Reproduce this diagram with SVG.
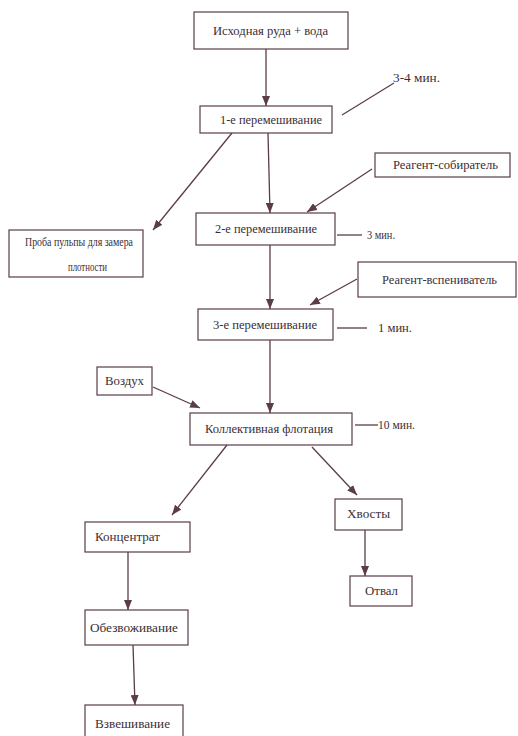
<svg xmlns="http://www.w3.org/2000/svg" width="518" height="736" viewBox="0 0 518 736">
<defs>
<style>
.box{fill:none;stroke:#5a3c4a;stroke-width:1.2}
.ln{fill:none;stroke:#5a3c4a;stroke-width:1.3}
.t{font-family:"Liberation Serif","Times New Roman",serif;font-size:13px;fill:#3a2e36}
</style>
<marker id="ah" markerWidth="10" markerHeight="8" refX="10" refY="4" orient="auto" markerUnits="userSpaceOnUse">
<path d="M0,0 L10,4 L0,8 Z" fill="#5a3c4a"/>
</marker>
</defs>
<rect width="518" height="736" fill="#ffffff"/>
<g id="connectors">
<line class="ln" x1="266" y1="49" x2="266" y2="106" marker-end="url(#ah)"/>
<line class="ln" x1="268" y1="133" x2="270" y2="213" marker-end="url(#ah)"/>
<line class="ln" x1="232" y1="133" x2="153" y2="230" marker-end="url(#ah)"/>
<line class="ln" x1="372" y1="169" x2="307" y2="212" marker-end="url(#ah)"/>
<line class="ln" x1="357" y1="279" x2="310" y2="305" marker-end="url(#ah)"/>
<line class="ln" x1="270" y1="245" x2="270" y2="309" marker-end="url(#ah)"/>
<line class="ln" x1="270" y1="340" x2="270" y2="413" marker-end="url(#ah)"/>
<line class="ln" x1="153" y1="387" x2="200" y2="408" marker-end="url(#ah)"/>
<line class="ln" x1="227" y1="445" x2="172" y2="515" marker-end="url(#ah)"/>
<line class="ln" x1="312" y1="447" x2="357" y2="495" marker-end="url(#ah)"/>
<line class="ln" x1="365" y1="530" x2="365" y2="576" marker-end="url(#ah)"/>
<line class="ln" x1="128" y1="552" x2="128" y2="610" marker-end="url(#ah)"/>
<line class="ln" x1="133" y1="645" x2="135" y2="705" marker-end="url(#ah)"/>
<line class="ln" x1="342" y1="115" x2="394" y2="83"/>
<line class="ln" x1="337" y1="235" x2="362" y2="235"/>
<line class="ln" x1="337" y1="328" x2="367" y2="328"/>
<line class="ln" x1="355" y1="425" x2="378" y2="425"/>
</g>
<g id="n1"><rect class="box" x="194" y="12" width="154" height="37"/><text class="t" x="213" y="35" textLength="115" lengthAdjust="spacingAndGlyphs">Исходная руда + вода</text></g>
<g id="n2"><rect class="box" x="200" y="106" width="132" height="27"/><text class="t" x="220" y="124" textLength="102" lengthAdjust="spacingAndGlyphs">1-е перемешивание</text></g>
<text class="t" x="393" y="82" textLength="47" lengthAdjust="spacingAndGlyphs">3-4 мин.</text>
<g id="n3"><rect class="box" x="9" y="230" width="134" height="47"/><text class="t" x="25" y="246" textLength="108" lengthAdjust="spacingAndGlyphs">Проба пульпы для замера</text><text class="t" x="68" y="271" textLength="39" lengthAdjust="spacingAndGlyphs">плотности</text></g>
<g id="n4"><rect class="box" x="196" y="213" width="139" height="32"/><text class="t" x="215" y="233" textLength="102" lengthAdjust="spacingAndGlyphs">2-е перемешивание</text></g>
<text class="t" x="367" y="239" textLength="28" lengthAdjust="spacingAndGlyphs">3 мин.</text>
<g id="n5"><rect class="box" x="375" y="153" width="135" height="24"/><text class="t" x="393" y="169" textLength="105" lengthAdjust="spacingAndGlyphs">Реагент-собиратель</text></g>
<g id="n6"><rect class="box" x="358" y="262" width="158" height="35"/><text class="t" x="382" y="284" textLength="115" lengthAdjust="spacingAndGlyphs">Реагент-вспениватель</text></g>
<g id="n7"><rect class="box" x="198" y="309" width="135" height="31"/><text class="t" x="213" y="329" textLength="104" lengthAdjust="spacingAndGlyphs">3-е перемешивание</text></g>
<text class="t" x="378" y="332" textLength="34" lengthAdjust="spacingAndGlyphs">1 мин.</text>
<g id="n8"><rect class="box" x="97" y="367" width="55" height="28"/><text class="t" x="105" y="385" textLength="39" lengthAdjust="spacingAndGlyphs">Воздух</text></g>
<g id="n9"><rect class="box" x="190" y="413" width="162" height="32"/><text class="t" x="205" y="433" textLength="128" lengthAdjust="spacingAndGlyphs">Коллективная флотация</text></g>
<text class="t" x="378" y="429" textLength="37" lengthAdjust="spacingAndGlyphs">10 мин.</text>
<g id="n10"><rect class="box" x="85" y="522" width="105" height="30"/><text class="t" x="95" y="541" textLength="65" lengthAdjust="spacingAndGlyphs">Концентрат</text></g>
<g id="n11"><rect class="box" x="335" y="499" width="67" height="31"/><text class="t" x="347" y="518" textLength="43" lengthAdjust="spacingAndGlyphs">Хвосты</text></g>
<g id="n12"><rect class="box" x="350" y="576" width="62" height="30"/><text class="t" x="365" y="595" textLength="33" lengthAdjust="spacingAndGlyphs">Отвал</text></g>
<g id="n13"><rect class="box" x="85" y="610" width="103" height="35"/><text class="t" x="90" y="632" textLength="88" lengthAdjust="spacingAndGlyphs">Обезвоживание</text></g>
<g id="n14"><rect class="box" x="85" y="705" width="98" height="32"/><text class="t" x="95" y="728" textLength="75" lengthAdjust="spacingAndGlyphs">Взвешивание</text></g>
</svg>
